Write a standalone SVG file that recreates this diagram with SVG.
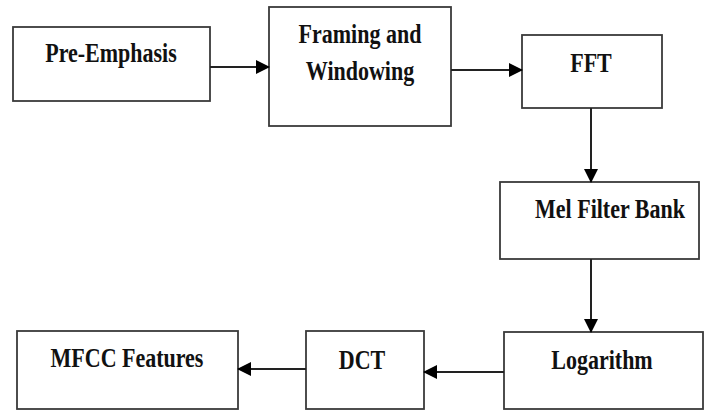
<svg xmlns="http://www.w3.org/2000/svg" width="711" height="412" viewBox="0 0 711 412">
<style>
.box{fill:#fff;stroke:#3a3a3a;stroke-width:1.8}
.lbl{font-family:"Liberation Serif","Times New Roman",serif;font-weight:bold;font-size:22px;fill:#111;text-anchor:middle}
.edge{stroke:#222;stroke-width:2;fill:none;marker-end:url(#ah)}
</style>
<defs>
<marker id="ah" markerUnits="userSpaceOnUse" markerWidth="14" markerHeight="14" refX="13" refY="7" orient="auto">
<path d="M0,0 L14,7 L0,14 Z" fill="#000"/>
</marker>
</defs>
<rect width="711" height="412" fill="#fff"/>
<g id="pre-emphasis">
<rect class="box" x="13" y="27" width="197" height="74"/>
<text class="lbl" transform="translate(111,62) scale(1,1.25)">Pre-Emphasis</text>
</g>
<g id="framing">
<rect class="box" x="269" y="7" width="182" height="119"/>
<text class="lbl" transform="translate(360,43) scale(1,1.25)">Framing and</text>
<text class="lbl" transform="translate(360,80) scale(1,1.25)">Windowing</text>
</g>
<g id="fft">
<rect class="box" x="522" y="35" width="140" height="73"/>
<text class="lbl" transform="translate(591,72) scale(1,1.25)">FFT</text>
</g>
<g id="mel">
<rect class="box" x="500" y="182" width="199" height="77"/>
<text class="lbl" transform="translate(610,218) scale(1,1.25)">Mel Filter Bank</text>
</g>
<g id="log">
<rect class="box" x="504" y="332" width="199" height="77"/>
<text class="lbl" transform="translate(602,369) scale(1,1.25)">Logarithm</text>
</g>
<g id="dct">
<rect class="box" x="306" y="331" width="118" height="78"/>
<text class="lbl" transform="translate(362,369) scale(1,1.25)">DCT</text>
</g>
<g id="mfcc">
<rect class="box" x="17" y="331" width="221" height="78"/>
<text class="lbl" transform="translate(127,367) scale(1,1.25)">MFCC Features</text>
</g>
<g id="connectors">
<line class="edge" x1="210" y1="67" x2="269" y2="67"/>
<line class="edge" x1="451" y1="70" x2="522" y2="70"/>
<line class="edge" x1="591" y1="108" x2="591" y2="182"/>
<line class="edge" x1="591" y1="259" x2="591" y2="332"/>
<line class="edge" x1="504" y1="372" x2="424" y2="372"/>
<line class="edge" x1="306" y1="369" x2="238" y2="369"/>
</g>
</svg>
